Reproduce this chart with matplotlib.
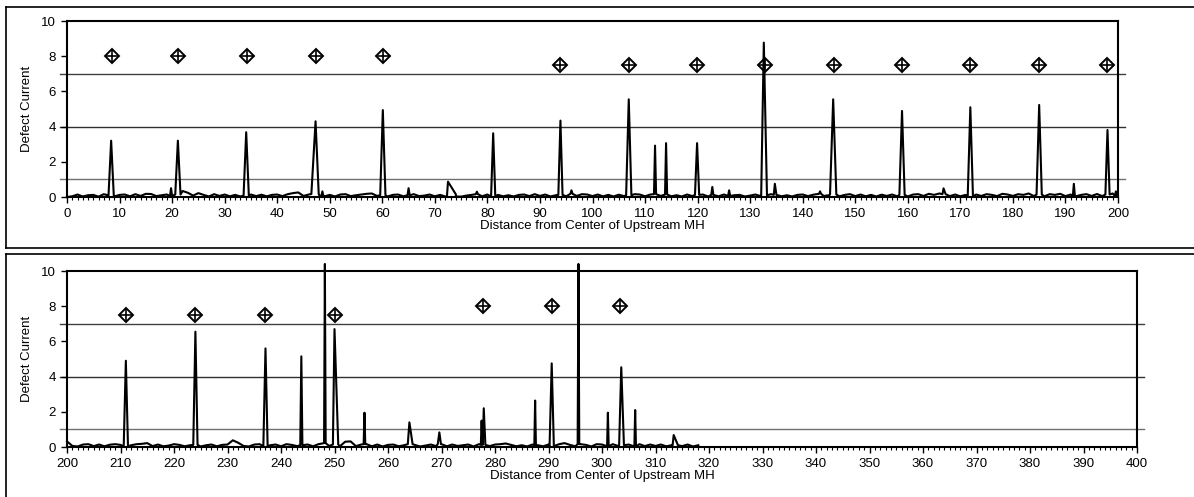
import numpy as np
import matplotlib.pyplot as plt
from matplotlib.lines import Line2D
from matplotlib.ticker import MultipleLocator

plt.rcParams['font.family'] = ['Liberation Sans', 'DejaVu Sans']

# baseline readings, hundredths of a unit, one per foot
top_base = [0, 4, 14, 3, 10, 12, 2, 16, 9, 3,
            12, 14, 4, 16, 6, 18, 17, 5, 10, 14,
            6, 14, 34, 24, 8, 22, 12, 3, 16, 6,
            14, 4, 12, 3, 8, 14, 5, 13, 4, 12,
            14, 5, 16, 22, 26, 6, 14, 17, 10, 4,
            12, 3, 14, 16, 5, 10, 14, 18, 20, 6,
            10, 3, 12, 14, 4, 10, 16, 5, 8, 14,
            4, 12, 3, 20, 15, 2, 8, 12, 16, 4,
            14, 3, 12, 4, 10, 3, 12, 14, 5, 16,
            6, 14, 3, 10, 12, 4, 18, 6, 16, 14,
            5, 14, 4, 12, 3, 13, 5, 10, 16, 14,
            4, 14, 16, 6, 14, 4, 10, 3, 14, 5,
            12, 14, 3, 12, 4, 14, 6, 10, 12, 3,
            8, 14, 5, 10, 16, 12, 4, 10, 3, 12,
            14, 5, 13, 18, 6, 10, 14, 4, 12, 16,
            5, 14, 4, 12, 3, 13, 6, 14, 4, 12,
            3, 14, 16, 6, 18, 12, 20, 16, 5, 14,
            4, 12, 3, 14, 6, 16, 12, 5, 18, 14,
            6, 16, 12, 20, 5, 14, 4, 16, 12, 18,
            5, 14, 4, 12, 16, 6, 17, 5, 14, 20,
            6]
bot_base = [32, 6, 3, 14, 16, 5, 14, 4, 13, 16,
            12, 4, 10, 16, 18, 22, 5, 14, 4, 8,
            16, 12, 4, 10, 12, 3, 10, 14, 4, 12,
            14, 38, 24, 6, 3, 14, 16, 5, 10, 14,
            4, 16, 12, 5, 10, 14, 4, 16, 22, 6,
            14, 4, 30, 32, 5, 14, 16, 4, 14, 3,
            12, 14, 4, 10, 16, 12, 3, 8, 14, 5,
            16, 4, 14, 6, 10, 14, 3, 16, 12, 5,
            14, 16, 20, 12, 4, 10, 3, 14, 10, 4,
            14, 5, 16, 22, 12, 4, 16, 12, 3, 16,
            14, 4, 16, 6, 10, 14, 3, 16, 5, 14,
            6, 14, 4, 10, 16, 5, 14, 3, 10]

top_px = [8.4, 19.8, 21.1, 34.1, 47.3, 48.6, 60.1, 65.0, 72.5, 78.0, 81.1,
          93.9, 96.0, 106.9, 111.9, 114.0, 119.9, 122.8, 126.0, 132.6, 134.7,
          143.3, 145.8, 158.9, 166.8, 171.9, 185.0, 191.6, 198.0, 199.6]
top_py = [3.2, 0.5, 3.2, 3.68, 4.3, 0.32, 4.94, 0.5, 0.87, 0.3, 3.62,
          4.34, 0.38, 5.55, 2.92, 3.06, 3.06, 0.57, 0.38, 8.77, 0.75,
          0.32, 5.55, 4.89, 0.49, 5.1, 5.23, 0.75, 3.81, 0.32]
top_wl = [0.5, 0.2, 0.5, 0.5, 0.8, 0.2, 0.5, 0.2, 0.2, 0.2, 0.4,
          0.4, 0.2, 0.5, 0.2, 0.2, 0.4, 0.2, 0.2, 0.5, 0.2,
          0.2, 0.6, 0.5, 0.2, 0.5, 0.5, 0.2, 0.4, 0.2]
top_wr = [0.5, 0.2, 0.5, 0.5, 0.6, 0.2, 0.5, 0.2, 1.5, 0.2, 0.4,
          0.4, 0.2, 0.5, 0.2, 0.2, 0.4, 0.2, 0.2, 0.6, 0.3,
          0.2, 0.6, 0.5, 0.4, 0.5, 0.5, 0.2, 0.4, 0.2]

bot_px = [211.0, 224.0, 237.1, 243.8, 248.2, 250.0, 255.6, 264.0, 269.6,
          277.5, 277.9, 287.5, 290.6, 295.6, 301.1, 303.6, 306.2, 313.4]
bot_py = [4.9, 6.55, 5.6, 5.15, 10.4, 6.7, 1.95, 1.4, 0.83,
          1.5, 2.2, 2.64, 4.75, 10.4, 1.95, 4.53, 2.1, 0.68]
bot_wl = [0.4, 0.4, 0.4, 0.2, 0.15, 0.3, 0.15, 0.3, 0.3,
          0.15, 0.2, 0.15, 0.4, 0.15, 0.15, 0.4, 0.15, 0.2]
bot_wr = [0.4, 0.4, 0.4, 0.2, 0.15, 0.7, 0.15, 0.6, 0.3,
          0.15, 0.3, 0.15, 0.4, 0.15, 0.15, 0.5, 0.15, 0.8]

top_mx = [8.5, 21.2, 34.2, 47.3, 60.2, 93.9, 106.9, 119.9, 132.9,
          145.9, 158.9, 171.9, 184.9, 197.9]
top_my = [8, 8, 8, 8, 8, 7.5, 7.5, 7.5, 7.5, 7.5, 7.5, 7.5, 7.5, 7.5]
bot_mx = [211.0, 224.0, 237.0, 250.0, 277.8, 290.6, 303.4]
bot_my = [7.5, 7.5, 7.5, 7.5, 8, 8, 8]

hline_y = [1, 4, 7]
hline_c = ['#707070', '#303030', '#404040']


def build(x0, base, px, py, wl, wr):
    bx = x0 + np.arange(len(base), dtype=float)
    by = np.array(base) / 100.0
    keep = np.ones(len(bx), bool)
    xs, ys = [], []
    for p, h, a, b in zip(px, py, wl, wr):
        keep &= ~((bx > p - a) & (bx < p + b))
        foot = by[int(round(p)) - x0]
        xs += [p - a, p, p + b]
        ys += [foot, h, foot]
    x = np.concatenate([bx[keep], xs])
    y = np.concatenate([by[keep], ys])
    o = np.argsort(x, kind='stable')
    return x[o], y[o]


W, H = 1194, 497
fig = plt.figure(figsize=(W / 100, H / 100), dpi=100)

# panel frames
def frame(ytop, ybot):
    kw = dict(color='black', lw=1.2, transform=fig.transFigure)
    fig.add_artist(Line2D([6 / W, 1.0], [1 - ytop / H] * 2, **kw))
    fig.add_artist(Line2D([6 / W, 6 / W], [1 - ytop / H, 1 - ybot / H], **kw))
    if ybot < H:
        fig.add_artist(Line2D([6 / W, 1.0], [1 - ybot / H] * 2, **kw))

frame(7, 248)
frame(254, H + 5)

ax1 = fig.add_axes([67 / W, 1 - 197 / H, (1118 - 67) / W, 176 / H])
ax2 = fig.add_axes([67 / W, 1 - 447 / H, (1137 - 67) / W, 176 / H])

panels = [
    (ax1, 0, top_base, top_px, top_py, top_wl, top_wr, top_mx, top_my, (0, 200)),
    (ax2, 200, bot_base, bot_px, bot_py, bot_wl, bot_wr, bot_mx, bot_my, (200, 400)),
]

for ax, x0, base, px, py, wl, wr, mx, my, xl in panels:
    for yy, cc in zip(hline_y, hline_c):
        ax.plot([-0.007, 1.007], [yy, yy], color=cc, lw=1.0,
                transform=ax.get_yaxis_transform(), clip_on=False, zorder=1)
    x, y = build(x0, base, px, py, wl, wr)
    ax.plot(x, y, color='black', lw=1.5, clip_on=False, zorder=3)
    ax.plot(mx, my, ls='none', marker='D', ms=7.5, mfc='none', mec='black',
            mew=1.4, zorder=4)
    ax.plot(mx, my, ls='none', marker='+', ms=8.5, mec='black', mew=1.2, zorder=4)
    ax.set_xlim(*xl)
    ax.set_ylim(0, 10)
    ax.xaxis.set_major_locator(MultipleLocator(10))
    ax.xaxis.set_minor_locator(MultipleLocator(1))
    ax.yaxis.set_major_locator(MultipleLocator(2))
    ax.tick_params(axis='both', which='major', direction='out', length=4,
                   width=1, labelsize=9.5, pad=4)
    ax.tick_params(axis='x', which='minor', direction='out', length=2.5, width=0.8)
    for s in ax.spines.values():
        s.set_linewidth(1.5)
    ax.set_ylabel('Defect Current', fontsize=9.5, labelpad=6)
    ax.set_xlabel('Distance from Center of Upstream MH', fontsize=9.5, labelpad=0)

fig.savefig('out.png', dpi=100)
